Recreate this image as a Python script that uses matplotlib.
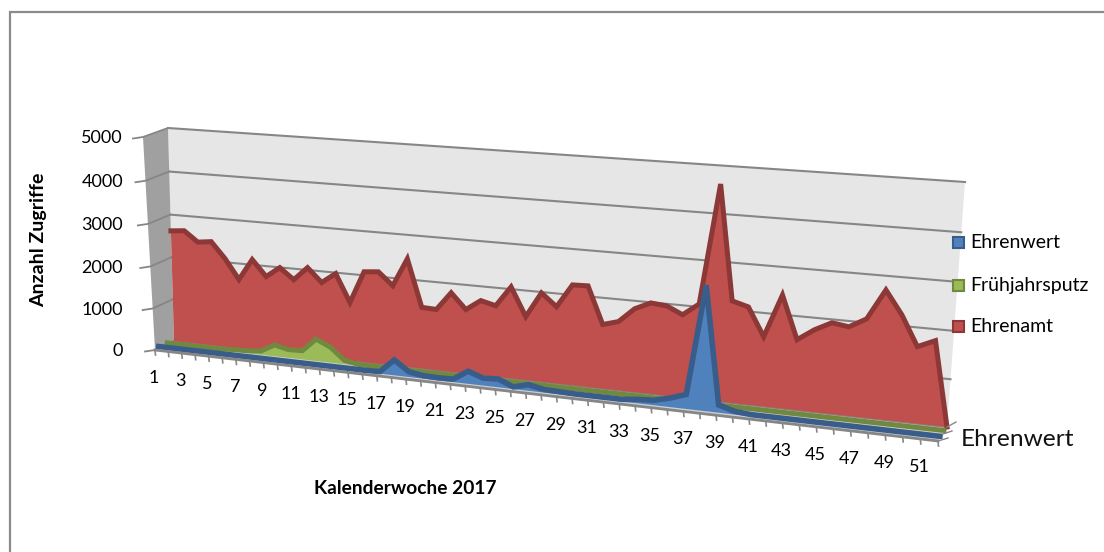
import numpy as np
import matplotlib
matplotlib.use("Agg")
import matplotlib.pyplot as plt
from matplotlib.transforms import Transform, Affine2D

plt.rcParams['font.family'] = ['Lato', 'DejaVu Sans']

weeks = list(range(1, 53))
ehrenamt = [2620, 2650, 2412, 2451, 2084, 1626, 2121, 1757, 1994, 1746,
            2054, 1743, 1978, 1347, 2080, 2110, 1826, 2463, 1399, 1384,
            1793, 1448, 1681, 1599, 2050, 1423, 1980, 1707, 2219, 2229,
            1417, 1514, 1827, 1986, 1955, 1797, 2061, 4617, 2193, 2096,
            1497, 2413, 1503, 1748, 1929, 1878, 2078, 2710, 2228, 1605,
            1764, 0]
fruehjahr = [30, 30, 30, 30, 30, 50, 60, 90, 270, 195,
             205, 515, 365, 90, 30, 30, 30, 30, 30, 30,
             30, 30, 30, 30, 30, 30, 30, 30, 30, 30,
             30, 30, 30, 30, 30, 30, 30, 30, 30, 30,
             30, 30, 30, 30, 30, 30, 30, 30, 30, 30,
             30, 30]
ehrenwert = [40, 40, 40, 40, 40, 40, 40, 40, 40, 40,
             40, 40, 40, 40, 40, 40, 50, 360, 120, 70,
             60, 70, 290, 170, 190, 50, 140, 70, 60, 50,
             50, 50, 50, 90, 110, 200, 320, 2720, 170, 70,
             40, 40, 40, 40, 40, 40, 40, 40, 40, 40,
             40, 40]
y_ticks = [0, 1000, 2000, 3000, 4000, 5000]
x_labels = list(range(1, 52, 2))
legend_names = ["Ehrenwert", "Frühjahrsputz", "Ehrenamt"]

RED, RED_D = "#C0504D", "#8C3836"
GREEN, GREEN_D = "#9BBB59", "#71893F"
BLUE, BLUE_D = "#4F81BD", "#385D8A"
GRID = "#868686"

# corners of the chart box in image pixels: (wk1,0) (wk52,0) (wk1,5000) (wk52,5000)
back = np.array([[174, 341], [947, 427], [168, 128], [965, 182]], float)
front = np.array([[155, 350], [938, 441], [143, 137], [955, 197]], float)


def homography(corners):
    src = [(1, 0), (52, 0), (1, 5000), (52, 5000)]
    a, b = [], []
    for (x, y), (u, v) in zip(src, corners):
        a.append([x, y, 1, 0, 0, 0, -u * x, -u * y])
        a.append([0, 0, 0, x, y, 1, -v * x, -v * y])
        b += [u, v]
    h = np.linalg.solve(np.array(a, float), np.array(b, float))
    return np.append(h, 1).reshape(3, 3)


class Perspective(Transform):
    input_dims = output_dims = 2

    def __init__(self, depth):
        super().__init__()
        self.h = homography(back + depth * (front - back))

    def transform_non_affine(self, values):
        pts = np.c_[values, np.ones(len(values))] @ self.h.T
        return pts[:, :2] / pts[:, 2:]


fig = plt.figure(figsize=(11.04, 5.52), dpi=100)
ax = fig.add_axes([0, 0, 1, 1])
ax.set_xlim(0, 1104)
ax.set_ylim(552, 0)
ax.axis("off")

t_back = Perspective(0) + ax.transData
t_green = Perspective(0.35) + ax.transData
t_blue = Perspective(0.8) + ax.transData
t_front = Perspective(1) + ax.transData

# frame of the picture
ax.plot([10, 10, 1104], [552, 12, 12], color="#8a8a8a", lw=1.6, solid_joinstyle="miter", zorder=1)

# walls
ax.fill([1, 52, 52, 1], [0, 0, 5000, 5000], color="#e6e6e6", lw=0, transform=t_back, zorder=1)
ax.fill([143, 168, 174, 155], [137, 128, 341, 350], color="#a0a0a0", lw=0, zorder=1)
ax.fill([174, 947, 938, 155], [341, 427, 441, 350], color="#d0d0d0", lw=0, zorder=1)

# grid lines
for v in y_ticks:
    ax.plot([1, 52], [v, v], color=GRID, lw=1.5, transform=t_back, zorder=2)
    p = Perspective(0).transform((1, v))
    q = Perspective(1).transform((1, v))
    ax.plot([q[0] - 10, q[0], p[0]], [q[1] + 1.5, q[1], p[1]], color=GRID, lw=1.3, zorder=2)
    ax.text(123, q[1] + 1, str(v), ha="right", va="center", fontsize=13, color="black")

# series, back to front
series = [(ehrenamt, t_back, RED, RED_D, 3.6),
          (fruehjahr, t_green, GREEN, GREEN_D, 3.6),
          (ehrenwert, t_blue, BLUE, BLUE_D, 4.0)]
for i, (vals, tr, fill, dark, width) in enumerate(series):
    ax.fill(weeks + [52, 1], vals + [0, 0], color=fill, lw=0, transform=tr, zorder=3 + i)
    ax.plot(weeks, vals, color=dark, lw=width, solid_joinstyle="miter", transform=tr, zorder=3 + i)

# floor edge with ticks
ax.plot([1, 52], [0, 0], color=GRID, lw=2, transform=t_front, zorder=6)
for w in weeks:
    p = Perspective(1).transform((w, 0))
    ax.plot([p[0], p[0] + 0.5], [p[1], p[1] + 5], color=GRID, lw=1.2, zorder=6)
ax.plot([947, 956], [427, 422], color=GRID, lw=1, zorder=6)
ax.plot([943, 952], [434, 431], color=GRID, lw=1, zorder=6)
ax.plot([938, 948], [441, 438], color=GRID, lw=1, zorder=6)

# category labels
for w in x_labels:
    ax.text(w, 0, str(w), ha="center", va="center", fontsize=13, color="black",
            transform=t_front + Affine2D().translate(-1, -28))

ax.text(961, 440, "Ehrenwert", ha="left", va="center", fontsize=17.6, color="#111111")

# legend
for name, y, fill, dark in zip(legend_names, [242.5, 285, 326.5],
                               [BLUE, GREEN, RED], [BLUE_D, GREEN_D, RED_D]):
    ax.fill([953, 964, 964, 953], [y - 5.5, y - 5.5, y + 5.5, y + 5.5],
            facecolor=fill, edgecolor=dark, lw=1.5, zorder=6)
    ax.text(970, y, name, ha="left", va="center", fontsize=14, color="black")

ax.text(39, 240, "Anzahl Zugriffe", rotation=90, ha="center", va="center",
        fontsize=14, fontweight="bold", color="black")
ax.text(405, 488, "Kalenderwoche 2017", ha="center", va="center",
        fontsize=13.8, fontweight="bold", color="black")

fig.savefig("out.png", dpi=100)
